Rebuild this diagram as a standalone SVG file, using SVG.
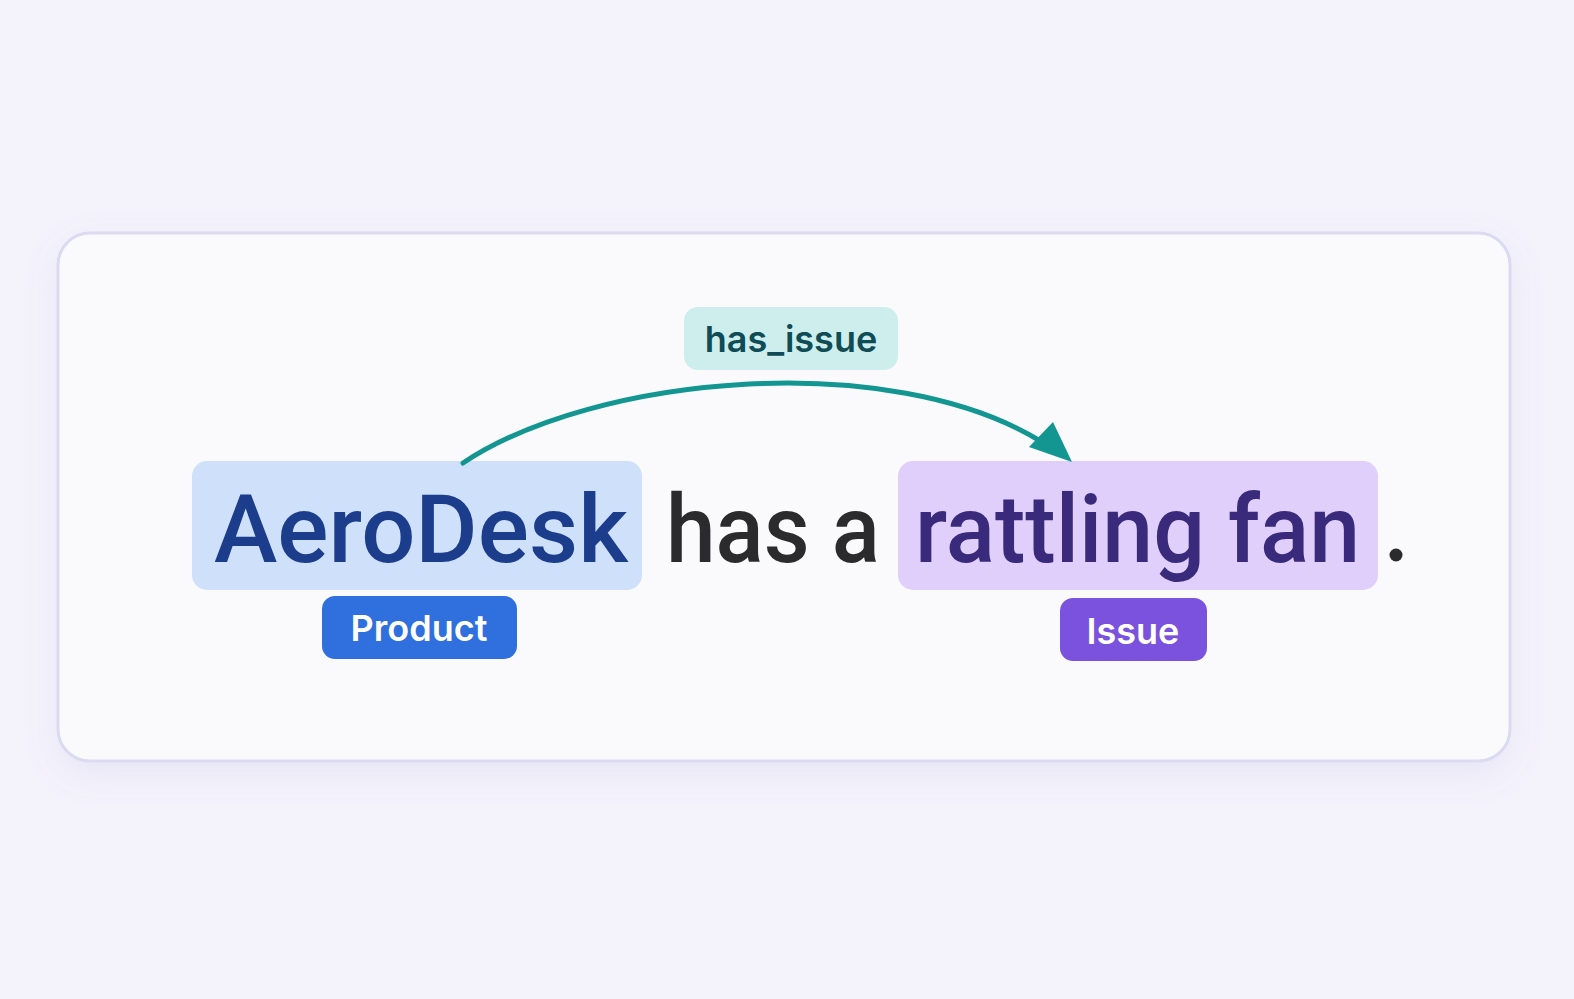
<svg xmlns="http://www.w3.org/2000/svg" width="1574" height="999" viewBox="0 0 1574 999">
<defs>
<style>
.word{font-family:Roboto,Inter,"Liberation Sans",sans-serif;font-size:95px;font-weight:500}
.tag{font-family:Inter,"Noto Sans","Liberation Sans",sans-serif;font-size:36px;font-weight:600;text-anchor:middle}
</style>
<filter id="sh" x="-10%" y="-10%" width="120%" height="130%">
<feDropShadow dx="0" dy="12" stdDeviation="16" flood-color="#8a84c0" flood-opacity="0.12"/>
</filter>
</defs>
<rect width="1574" height="999" fill="#f4f3fc"/>
<rect x="58" y="233" width="1452" height="528" rx="32" fill="#fafafd" stroke="#dcdaf0" stroke-width="3" filter="url(#sh)"/>
<g id="label-has_issue">
<rect x="684" y="307" width="214" height="63" rx="14" fill="#cdeeec"/>
<text class="tag" x="791" y="352" fill="#0f4c55">has_issue</text>
</g>
<g id="node-aerodesk">
<rect x="192" y="461" width="450" height="129" rx="15" fill="#cfe0fb"/>
<text class="word" x="214" y="562" fill="#1b3d8c" textLength="414" lengthAdjust="spacingAndGlyphs">AeroDesk</text>
</g>
<g id="text-has-a">
<text class="word" x="666" y="562" fill="#2b2b2e" font-weight="400" textLength="214" lengthAdjust="spacingAndGlyphs">has a</text>
</g>
<g id="node-rattling-fan">
<rect x="898" y="461" width="480" height="129" rx="15" fill="#e0cffa"/>
<text class="word" x="915" y="562" fill="#3a2a7c" textLength="445" lengthAdjust="spacingAndGlyphs">rattling fan</text>
</g>
<g id="text-period">
<circle cx="1396" cy="555" r="6.5" fill="#2b2b2e"/>
</g>
<g id="tag-product">
<rect x="322" y="596" width="195" height="63" rx="13" fill="#2f6fde"/>
<text class="tag" x="419" y="641" fill="#ffffff">Product</text>
</g>
<g id="tag-issue">
<rect x="1060" y="598" width="147" height="63" rx="13" fill="#7a52dd"/>
<text class="tag" x="1133" y="644" fill="#ffffff">Issue</text>
</g>
<g id="connectors">
<path d="M463,463 C595,375 890,348 1042,442" fill="none" stroke="#139691" stroke-width="5" stroke-linecap="round"/>
<polygon points="1072,462 1029,447 1053,422" fill="#139691"/>
</g>
</svg>
